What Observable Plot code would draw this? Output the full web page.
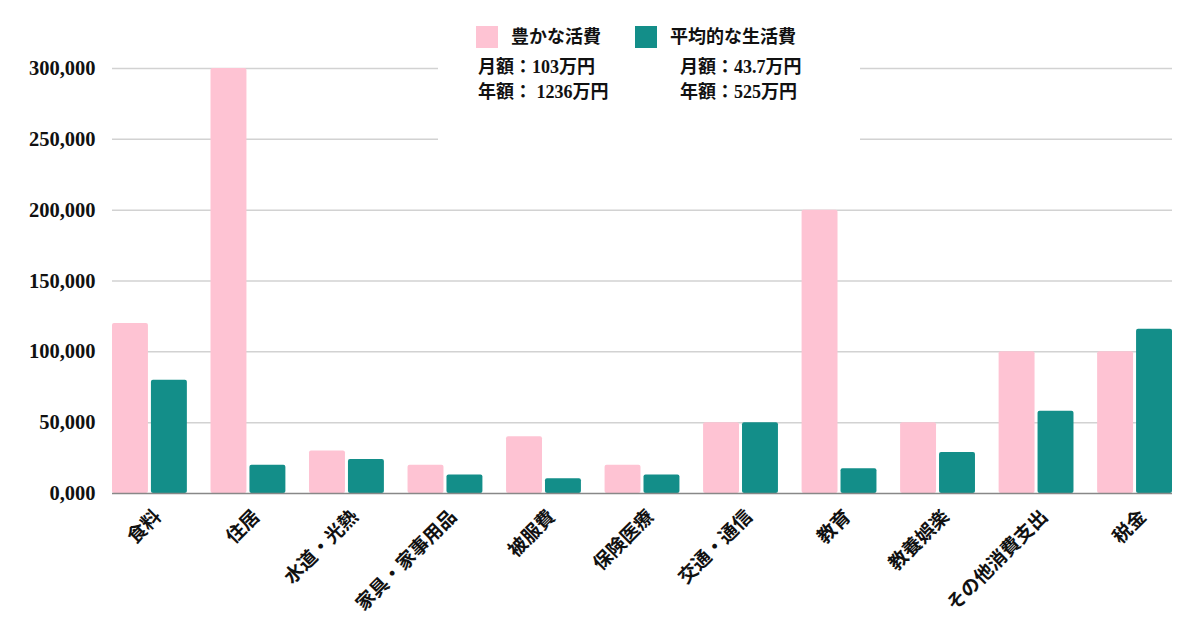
<!DOCTYPE html>
<html>
<head>
<meta charset="utf-8">
<script src="https://cdn.jsdelivr.net/npm/d3@7"></script>
<script src="https://cdn.jsdelivr.net/npm/@observablehq/plot@0.6"></script>
<style>
  body { margin: 0; background: #fff; }
  #wrap { position: relative; width: 1200px; height: 630px; overflow: hidden; font-family: "Liberation Serif", "Noto Sans CJK JP", serif; font-weight: bold; }
  #legend { position: absolute; left: 438px; top: 12px; width: 422px; height: 136px; background: #fff; }
  .sw { position: absolute; width: 22px; height: 22px; }
  .lt { position: absolute; font-size: 18px; line-height: 1; white-space: pre; color: #111; }
</style>
</head>
<body>
<div id="wrap"><div id="chart"></div><div id="legend"></div></div>
<script>
const categories = ["食料","住居","水道・光熱","家具・家事用品","被服費","保険医療","交通・通信","教育","教養娯楽","その他消費支出","税金"];
const richValues = [120000,300000,30000,20000,40000,20000,50000,200000,50000,100000,100000];
const avgValues  = [80000,20000,24000,13000,10500,13000,50000,17500,29000,58000,116000];
const seriesNames = ["豊かな活費","平均的な生活費"];
const seriesColors = ["#fec3d3","#138e89"];
const yTicks = [0,50000,100000,150000,200000,250000,300000];
const legendLines = [["月額：103万円","年額： 1236万円"],["月額：43.7万円","年額：525万円"]];

const rich = categories.map((c,i)=>({category:c, value:richValues[i], series:seriesNames[0]}));
const avg  = categories.map((c,i)=>({category:c, value:avgValues[i], series:seriesNames[1]}));

const W = 1200, mL = 112, mR = 28, padIn = 0.24;
const step = (W - mL - mR) / (categories.length - padIn);
const bw = step * (1 - padIn);
const half = bw / 2 + 1.5;

const fmt = d => d === 0 ? "0,000" : d3.format(",")(d);
const hasAxisMarks = typeof Plot.axisX === "function";

const axisMarks = hasAxisMarks ? [
  Plot.axisX({tickSize: 0, tickRotate: -45, tickPadding: 20, dx: 8, fontSize: 19, label: null}),
  Plot.axisY({ticks: yTicks, tickFormat: fmt, tickSize: 0, tickPadding: 17, fontSize: 20.5, label: null})
] : [];

const chart = Plot.plot({
  width: W, height: 630,
  marginLeft: mL, marginRight: mR, marginTop: 68, marginBottom: 137,
  style: {fontFamily: '"Liberation Serif", "Noto Sans CJK JP", serif', fontSize: "19px", fontWeight: "bold", color: "#111", background: "#fff"},
  x: {domain: categories, paddingInner: padIn, paddingOuter: 0, round: false, label: null, tickSize: 0, tickRotate: -45, tickPadding: 22},
  y: {domain: [0, 300000], ticks: yTicks, tickFormat: fmt, label: null, tickSize: 0, tickPadding: 17},
  marks: [
    Plot.ruleY(yTicks.filter(d => d > 0), {stroke: "#d2d2d2", strokeWidth: 1.5}),
    Plot.barY(rich, {x: "category", y: "value", fill: seriesColors[0], insetRight: half, rx: 2}),
    Plot.barY(avg, {x: "category", y: "value", fill: seriesColors[1], insetLeft: half, rx: 2}),
    Plot.ruleY([0], {stroke: "#888", strokeWidth: 1.5}),
    ...axisMarks
  ]
});
document.getElementById("chart").appendChild(chart);

const lg = document.getElementById("legend");
const ox = 438, oy = 12;
function add(cls, x, y, text, color) {
  const el = document.createElement("div");
  el.className = cls;
  el.style.left = (x - ox) + "px";
  el.style.top = (y - oy) + "px";
  if (text) el.textContent = text;
  if (color) el.style.background = color;
  lg.appendChild(el);
}
add("sw", 476, 26, null, seriesColors[0]);
add("lt", 511, 28, seriesNames[0]);
add("sw", 635, 26, null, seriesColors[1]);
add("lt", 670, 28, seriesNames[1]);
add("lt", 478, 58, legendLines[0][0]);
add("lt", 478, 83, legendLines[0][1]);
add("lt", 680, 58, legendLines[1][0]);
add("lt", 680, 83, legendLines[1][1]);
</script>
</body>
</html>
